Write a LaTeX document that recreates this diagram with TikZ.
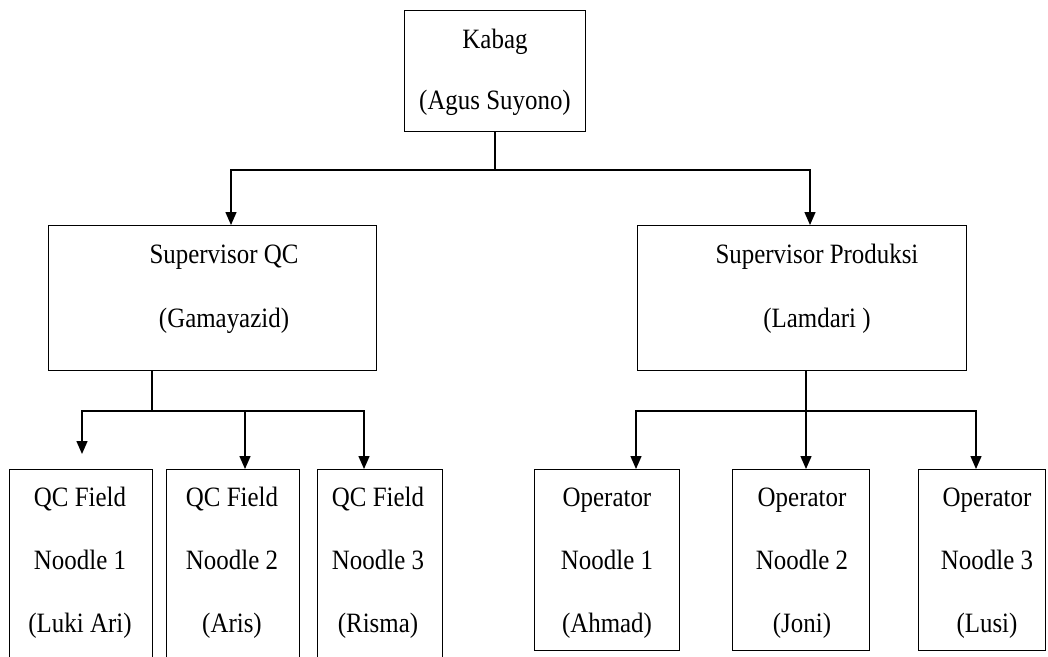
\documentclass[tikz,border=0pt]{standalone}
\usepackage{fontspec}
\setmainfont{Liberation Serif}[FakeStretch=0.89]
\usetikzlibrary{arrows.meta}
\begin{document}
\begin{tikzpicture}[x=1pt,y=-1pt,
  box/.style={draw=black,line width=1.4pt,inner sep=0pt,anchor=north west},
  txt/.style={align=center,inner sep=0pt,font=\fontsize{28}{63}\selectfont},
  conn/.style={draw=black,line width=1.4pt},
  arr/.style={conn,-{Triangle[width=11pt,length=13pt]}}]
\useasboundingbox (0,0) rectangle (1048,656);
\clip (0,0) rectangle (1048,656);
\fill[white] (0,0) rectangle (1048,656);
% boxes
\node[box,minimum width=181pt,minimum height=121pt] (kabag) at (404,10) {};
\node[box,minimum width=328pt,minimum height=145pt] (sqc) at (48,225) {};
\node[box,minimum width=329pt,minimum height=145pt] (sprod) at (637,225) {};
\node[box,minimum width=143pt,minimum height=195pt] (q1) at (9,469) {};
\node[box,minimum width=133pt,minimum height=195pt] (q2) at (166,469) {};
\node[box,minimum width=125pt,minimum height=195pt] (q3) at (317,469) {};
\node[box,minimum width=145pt,minimum height=181pt] (o1) at (534,469) {};
\node[box,minimum width=137pt,minimum height=181pt] (o2) at (732,469) {};
\node[box,minimum width=127pt,minimum height=181pt] (o3) at (918,469) {};
% texts
\node[txt,font=\fontsize{28}{61}\selectfont] (kabagT) at (495,72) {Kabag\\(Agus Suyono)};
\node[txt,font=\fontsize{28}{64}\selectfont] (sqcT) at (224,289) {Supervisor QC\\(Gamayazid)};
\node[txt,font=\fontsize{28}{64}\selectfont] (sprodT) at (817,289) {Supervisor Produksi\\(Lamdari )};
\node[txt] (q1T) at (80,563) {QC Field\\Noodle 1\\(Luki Ari)};
\node[txt] (q2T) at (232,563) {QC Field\\Noodle 2\\(Aris)};
\node[txt] (q3T) at (378,563) {QC Field\\Noodle 3\\(Risma)};
\node[txt] (o1T) at (607,563) {Operator\\Noodle 1\\(Ahmad)};
\node[txt] (o2T) at (802,563) {Operator\\Noodle 2\\(Joni)};
\node[txt] (o3T) at (987,563) {Operator\\Noodle 3\\(Lusi)};
% junctions
\coordinate (j0) at (495,170);
\coordinate (j1) at (152,411);
\coordinate (j2) at (806,411);
\coordinate (q1end) at (82,454);
% connectors
\draw[conn] (kabag.south -| j0) -- (j0);
\draw[arr] (j0) -| (sqc.north -| 231,0);
\draw[arr] (j0) -| (sprod.north -| 810,0);
\draw[conn] (sqc.south -| j1) -- (j1);
\draw[arr] (j1) -| (q1end);
\draw[arr] (j1) -| (q2.north -| 245,0);
\draw[arr] (j1) -| (q3.north -| 364,0);
\draw[conn] (sprod.south -| j2) -- (j2);
\draw[arr] (j2) -| (o1.north -| 636,0);
\draw[arr] (j2) -- (o2.north -| j2);
\draw[arr] (j2) -| (o3.north -| 976,0);
\end{tikzpicture}
\end{document}
